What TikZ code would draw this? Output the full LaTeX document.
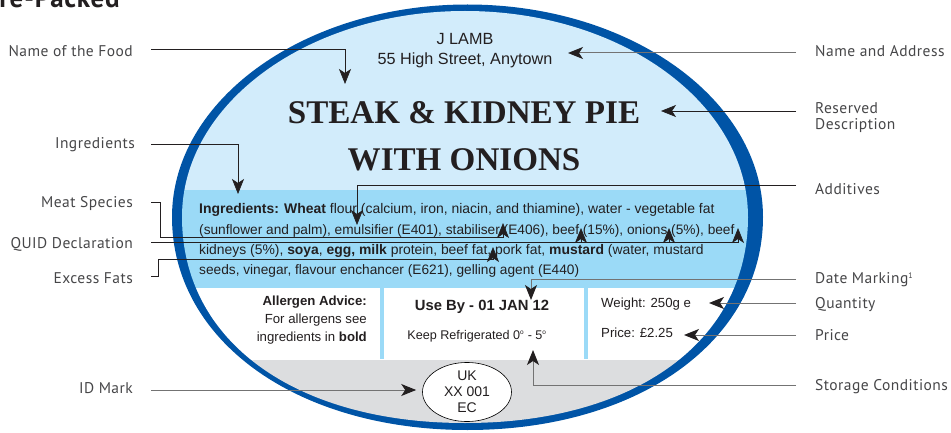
\documentclass[tikz,border=0pt]{standalone}
\usepackage{fontspec}
\setmainfont{Liberation Sans}
\newfontfamily\dinfont[LetterSpace=3]{PT Sans}
\newfontfamily\titlefont{Liberation Serif}
\usetikzlibrary{arrows.meta, shapes.geometric}
\definecolor{labelblue}{RGB}{0, 84, 166}
\definecolor{topblue}{RGB}{210, 236, 251}
\definecolor{bandblue}{RGB}{155, 218, 247}
\definecolor{footgrey}{RGB}{220, 221, 223}
\definecolor{inkdark}{RGB}{35, 31, 32}
\definecolor{sidegrey}{RGB}{70, 70, 72}
\tikzset{
  sidelabel/.style={font=\dinfont\fontsize{15.5}{16}\selectfont, text=sidegrey, inner sep=0pt, align=left},
  body/.style={font=\fontsize{13.2}{15}\selectfont, text=inkdark, inner sep=0pt},
  ingline/.style={font=\fontsize{#1}{15}\selectfont, text=inkdark, inner sep=0pt, anchor=base west},
  title/.style={font=\titlefont\bfseries\fontsize{33.1}{38}\selectfont, text=inkdark, inner sep=0pt},
  callout/.style={draw=inkdark, line width=0.7pt, ->},
  calloutgrey/.style={draw=black!55, line width=1pt, ->}
}

\begin{document}
\begin{tikzpicture}[x=1pt, y=-1pt, >={Stealth[length=15pt, width=12pt, inset=4pt, color=inkdark]}]
    \useasboundingbox (0,0) rectangle (951,433);

    % Heading cut by the top edge
    \node[anchor=base east, inner sep=0pt, font=\dinfont\bfseries\fontsize{27}{29}\selectfont, text=inkdark] (heading) at (120,7.5) {re-Packed};

    % Label outline and background
    \fill[labelblue] (172,217) .. controls (172,100) and (304.5,4.5) .. (467.5,4.5) .. controls (630.5,4.5) and (763,100) .. (763,217)
        .. controls (763,340.5) and (638.5,430) .. (467.5,430) .. controls (296.5,430) and (172,340.5) .. (172,217) -- cycle;
    \begin{scope}
        \clip (182,217) .. controls (182,103) and (309,11) .. (465,11) .. controls (621,11) and (748,103) .. (748,217)
            .. controls (748,341) and (635,423) .. (465,423) .. controls (295,423) and (182,341) .. (182,217) -- cycle;
        \fill[topblue] (170,0) rectangle (765,190);
        \fill[bandblue] (170,190) rectangle (765,288);
        \fill[white] (170,288) rectangle (765,360);
        \fill[footgrey] (170,360) rectangle (765,433);
        \fill[bandblue] (380,288) rectangle (384,359);
        \fill[bandblue] (584,288) rectangle (588,359);
    \end{scope}

    % Name and title
    \node[body, font=\fontsize{16.2}{18}\selectfont] (firm) at (465,39) {J LAMB};
    \node[body, font=\fontsize{16.2}{18}\selectfont] (street) at (465,60) {55 High Street, Anytown};
    \node[title] (titleone) at (464,113) {STEAK \& KIDNEY PIE};
    \node[title] (titletwo) at (464,160) {WITH ONIONS};

    % Ingredients
    \node[ingline=13.95] (ingone) at (199,214) {\textbf{Ingredients: Wheat} flour (calcium, iron, niacin, and thiamine), water - vegetable fat};
    \node[ingline=13.7] (ingtwo) at (199,234) {(sunflower and palm), emulsifier (E401), stabiliser (E406), beef (15\%), onions (5\%), beef};
    \node[ingline=13.9] (ingthree) at (199,254) {kidneys (5\%), \textbf{soya}, \textbf{egg, milk} protein, beef fat, pork fat, \textbf{mustard} (water, mustard};
    \node[ingline=13.7] (ingfour) at (199,274) {seeds, vinegar, flavour enchancer (E621), gelling agent (E440)};

    % White panels
    \node[body, anchor=base east] (allergenone) at (367,305) {\textbf{Allergen Advice:}};
    \node[body, anchor=base east] (allergentwo) at (367,323) {For allergens see};
    \node[body, anchor=base east] (allergenthree) at (367,341) {ingredients in \textbf{bold}};
    \node[body, font=\bfseries\fontsize{14.8}{16}\selectfont] (useby) at (482,307) {Use By - 01 JAN 12};
    \node[body, font=\fontsize{12.6}{14}\selectfont] (keep) at (477,336) {Keep Refrigerated 0\textsuperscript{\fontsize{6.5}{7}\selectfont o} - 5\textsuperscript{\fontsize{6.5}{7}\selectfont o}};
    \node[body, anchor=base west] (weight) at (601,307) {Weight: 250g e};
    \node[body, anchor=base west] (price) at (601,337) {Price: \pounds 2.25};

    % ID mark
    \node[draw, fill=white, ellipse, minimum width=89pt, minimum height=55pt, inner sep=0pt, align=center, body, font=\fontsize{14}{16}\selectfont, line width=0.6pt] (idmark) at (467,392) {UK\\XX 001\\EC};

    % Left labels
    \node[sidelabel, anchor=east] (foodlabel) at (133,51) {Name of the Food};
    \node[sidelabel, anchor=east] (inglabel) at (135,145) {Ingredients};
    \node[sidelabel, anchor=east] (meatlabel) at (133,204) {Meat Species};
    \node[sidelabel, anchor=east] (quidlabel) at (133,244) {QUID Declaration};
    \node[sidelabel, anchor=east] (fatlabel) at (133,278) {Excess Fats};
    \node[sidelabel, anchor=east] (idlabel) at (133,388) {ID Mark};

    % Right labels
    \node[sidelabel, anchor=west] (addresslabel) at (815,51) {Name and Address};
    \node[sidelabel, anchor=west] (reservedlabel) at (815,118) {Reserved\\Description};
    \node[sidelabel, anchor=west] (additivelabel) at (815,189) {Additives};
    \node[sidelabel, anchor=west] (datelabel) at (815,280) {Date Marking\textsuperscript{\fontsize{8}{8}\selectfont 1}};
    \node[sidelabel, anchor=west] (quantitylabel) at (815,305) {Quantity};
    \node[sidelabel, anchor=west] (pricelabel) at (815,335) {Price};
    \node[sidelabel, anchor=west] (storagelabel) at (815,387) {Storage Conditions};

    % Free ends of the lines
    \coordinate (foodstart) at (151,49);
    \coordinate (foodtip) at (345,84);
    \coordinate (ingstart) at (151,144);
    \coordinate (ingtip) at (238,194);
    \coordinate (meatstart) at (151,202);
    \coordinate (meatbend) at (160,237.5);
    \coordinate (meattip) at (503,223);
    \coordinate (quidstart) at (151,242);
    \coordinate (quidtipa) at (581,228);
    \coordinate (quidtipb) at (669,228);
    \coordinate (quidtipc) at (738,228);
    \coordinate (fatstart) at (151,276);
    \coordinate (fatbend) at (158,259);
    \coordinate (fattip) at (493,247);
    \coordinate (idstart) at (151,390);
    \coordinate (addressstart) at (796,53);
    \coordinate (addresstip) at (568,53);
    \coordinate (reservedstart) at (796,111);
    \coordinate (reservedtip) at (661,111);
    \coordinate (additivestart) at (796,185);
    \coordinate (additivetip) at (357,225);
    \coordinate (datestart) at (796,279);
    \coordinate (datetip) at (531,300);
    \coordinate (quantitystart) at (796,303);
    \coordinate (quantitytip) at (709,303);
    \coordinate (pricestart) at (796,335);
    \coordinate (pricetip) at (684,335);
    \coordinate (storagestart) at (796,385);
    \coordinate (storagetip) at (533,350);

    % Lines from the left
    \draw[callout] (foodstart) -| (foodtip);
    \draw[callout] (ingstart) -| (ingtip);
    \draw[callout] (meatstart) -| (meatbend) -| (meattip);
    \draw[callout] (quidstart) -| (quidtipa);
    \draw[callout] (quidstart) -| (quidtipb);
    \draw[callout] (quidstart) -| (quidtipc);
    \draw[callout] (fatstart) -| (fatbend) -| (fattip);
    \draw[calloutgrey, shorten >=6pt] (idstart) -- (idstart -| idmark.west);

    % Lines from the right
    \draw[calloutgrey] (addressstart) -- (addresstip);
    \draw[callout] (reservedstart) -- (reservedtip);
    \draw[callout] (additivestart) -| (additivetip);
    \draw[calloutgrey] (datestart) -| (datetip);
    \draw[calloutgrey] (quantitystart) -- (quantitytip);
    \draw[calloutgrey] (pricestart) -- (pricetip);
    \draw[calloutgrey] (storagestart) -| (storagetip);
\end{tikzpicture}
\end{document}
